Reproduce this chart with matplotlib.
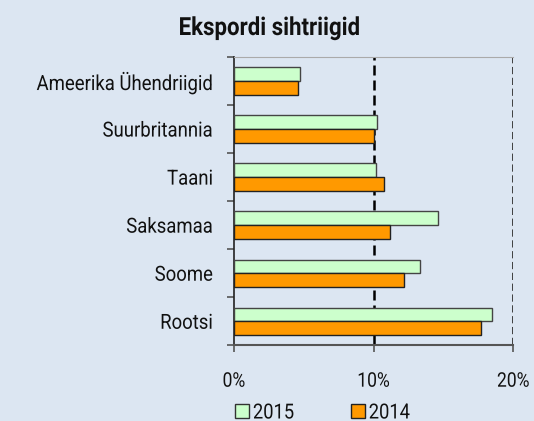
import matplotlib
matplotlib.use("Agg")
import matplotlib.pyplot as plt
from matplotlib.patches import Patch
from matplotlib.patheffects import AbstractPathEffect
from matplotlib.transforms import Affine2D
import numpy as np

plt.rcParams['font.family'] = ['Roboto', 'DejaVu Sans']

categories = ["Ameerika Ühendriigid", "Suurbritannia", "Taani", "Saksamaa", "Soome", "Rootsi"]
values_2015 = [4.7, 10.25, 10.2, 14.6, 13.35, 18.45]
values_2014 = [4.6, 10.0, 10.75, 11.15, 12.15, 17.7]
series_labels = ["2015", "2014"]
xticks = [0, 10, 20]
xticklabels = ["0%", "10%", "20%"]

bg = "#dce6f2"
green = "#ccffcc"
orange = "#ff9900"


class Condense(AbstractPathEffect):
    """Horizontally compress text glyphs to mimic a condensed typeface."""
    def __init__(self, sx=0.88, anchor='left'):
        super().__init__()
        self.sx = sx
        self.anchor = anchor

    def draw_path(self, renderer, gc, tpath, affine, rgbFace=None):
        if len(tpath.vertices) == 0:
            return
        ext = tpath.get_extents()
        if self.anchor == 'right':
            x0 = ext.x1
        elif self.anchor == 'center':
            x0 = ext.x1 / 2.0
        else:
            x0 = 0.0
        t = Affine2D().translate(-x0, 0).scale(self.sx, 1.0).translate(x0, 0)
        renderer.draw_path(gc, tpath, t + affine, rgbFace)


fig = plt.figure(figsize=(5.34, 4.21), dpi=100, facecolor=bg)
ax = fig.add_axes([0.4382, 0.1798, 0.5230, 0.6848])
ax.set_facecolor(bg)

n = len(categories)
y = np.arange(n)[::-1].astype(float)
h = 0.285
ax.barh(y + h / 2, values_2015, height=h, color=green, edgecolor="#444444", linewidth=1.0, zorder=3)
ax.barh(y - h / 2, values_2014, height=h, color=orange, edgecolor="#222222", linewidth=1.0, zorder=3)

ax.set_xlim(0, 20)
ax.set_ylim(-0.5, n - 0.5)

ax.axvline(10, color="black", linestyle=(0, (4, 2)), linewidth=1.8, zorder=2)
ax.axvline(20, color="#333333", linestyle=(0, (4, 2)), linewidth=1.3, zorder=2)

ax.set_yticks(y)
ax.set_yticklabels(categories, fontsize=15, color="#111111")
ax.set_yticks(np.arange(-0.5, n, 1.0), minor=True)
ax.tick_params(axis='y', which='major', length=0, pad=15)
ax.tick_params(axis='y', which='minor', length=5, color="#555555", width=1.2, direction='out')
for lab in ax.get_yticklabels():
    lab.set_path_effects([Condense(0.89, 'right')])

ax.set_xticks(xticks)
ax.set_xticklabels(xticklabels, fontsize=14.5, color="#111111")
ax.tick_params(axis='x', length=5, color="#555555", width=1.2, pad=14)
for lab in ax.get_xticklabels():
    lab.set_path_effects([Condense(0.87, 'center')])

ax.spines['right'].set_visible(False)
ax.spines['top'].set_color("#aaaaaa")
ax.spines['top'].set_linewidth(0.8)
ax.spines['left'].set_color("#222222")
ax.spines['left'].set_linewidth(1.2)
ax.spines['bottom'].set_color("#555555")
ax.spines['bottom'].set_linewidth(1.5)

title = fig.text(0.505, 1 - 35 / 421, "Ekspordi sihtriigid", fontsize=18, fontweight='bold',
                 ha='center', va='baseline', color="#111111")
title.set_path_effects([Condense(0.89, 'center')])

handles = [Patch(facecolor=green, edgecolor="#333333", linewidth=1.0),
           Patch(facecolor=orange, edgecolor="#222222", linewidth=1.0)]
leg = fig.legend(handles, series_labels, loc='center left', bbox_to_anchor=(235 / 534, 0.019), ncol=2,
                 frameon=False, fontsize=15, handlelength=0.67, handleheight=0.67,
                 handletextpad=0.19, columnspacing=2.45, borderaxespad=0, borderpad=0)
for t in leg.get_texts():
    t.set_color("#111111")
    t.set_path_effects([Condense(0.88, 'left')])

fig.savefig("out.png", dpi=100, facecolor=bg)
